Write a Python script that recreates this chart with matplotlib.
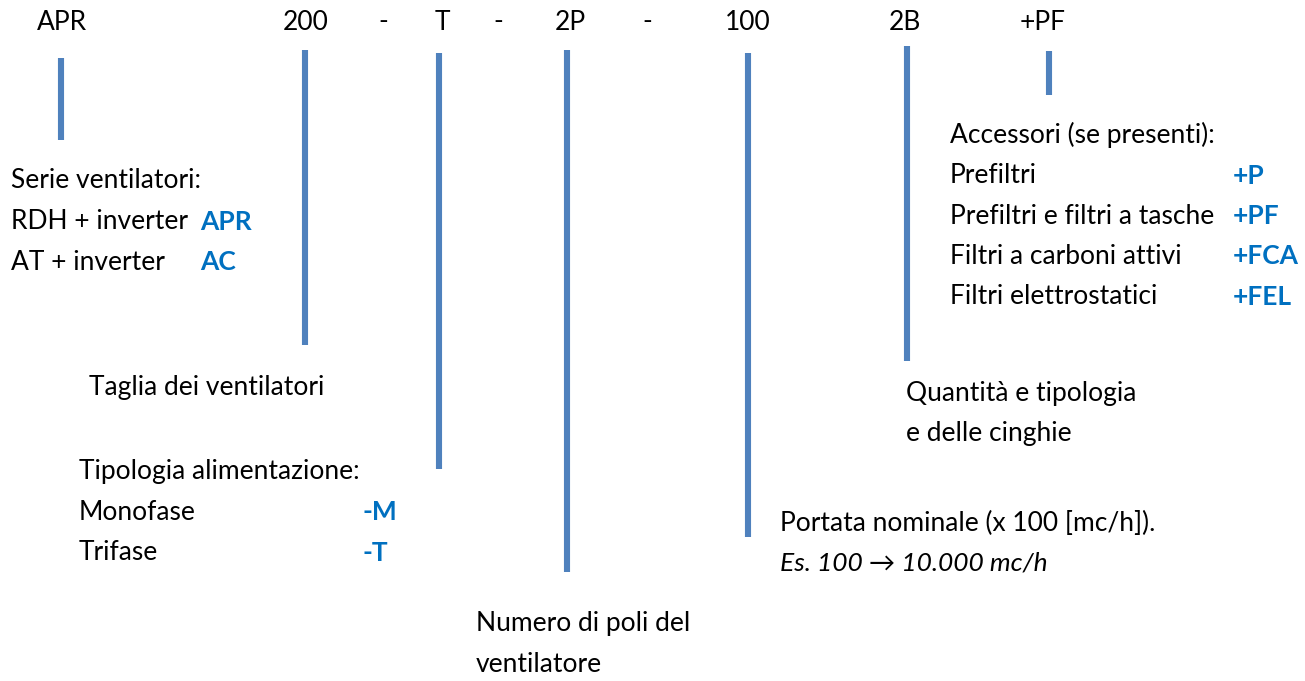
import matplotlib.pyplot as plt

plt.rcParams['font.family'] = ['Lato', 'DejaVu Sans']

# code parts along the top
codes = ['APR', '200', '-', 'T', '-', '2P', '-', '100', '2B', '+PF']
code_x = [62, 306, 383, 442, 498, 570, 647, 748, 905, 1043]

# leader lines: x, top, bottom (pixel coords)
line_x = [61, 305, 439, 567, 748, 907, 1049]
line_top = [58, 50, 53, 50, 53, 46, 51]
line_bottom = [140, 345, 469, 572, 537, 361, 95]

# description blocks: left x, first line y, lines, blue codes
blocks = [
    (11, 181, ['Serie ventilatori:', 'RDH + inverter', 'AT + inverter'], ['', 'APR', 'AC'], 200),
    (89, 388, ['Taglia dei ventilatori'], [''], None),
    (79, 472, ['Tipologia alimentazione:', 'Monofase', 'Trifase'], ['', '-M', '-T'], 362),
    (476, 624, ['Numero di poli del', 'ventilatore'], ['', ''], None),
    (906, 393, ['Quantità e tipologia', 'e delle cinghie'], ['', ''], None),
    (950, 135, ['Accessori (se presenti):', 'Prefiltri', 'Prefiltri e filtri a tasche',
                'Filtri a carboni attivi', 'Filtri elettrostatici'],
     ['', '+P', '+PF', '+FCA', '+FEL'], 1233),
]
line_gap = 40.5

fig = plt.figure(figsize=(13.05, 6.81), dpi=100)
ax = fig.add_axes([0, 0, 1, 1])
ax.set_xlim(0, 1305)
ax.set_ylim(681, 0)
ax.axis('off')

fs = 19
for c, x in zip(codes, code_x):
    ax.text(x, 22, c, ha='center', va='center', fontsize=fs, color='black')

ax.vlines(line_x, line_top, line_bottom, color='#4F81BD', linewidth=4.4)

for x0, y0, lines, tags, tag_x in blocks:
    for i, (t, tag) in enumerate(zip(lines, tags)):
        y = y0 + i * line_gap
        ax.text(x0, y, t, ha='left', va='center', fontsize=fs, color='black')
        if tag:
            ax.text(tag_x, y, tag, ha='left', va='center', fontsize=fs,
                    color='#0070C0', fontweight='bold')

# flow rate note
ax.text(780, 523, 'Portata nominale (x 100 [mc/h]).', ha='left', va='center',
        fontsize=fs, color='black')
ax.text(780, 563, 'Es. 100 \u2192 10.000 mc/h', ha='left', va='center',
        fontsize=fs, color='black', style='italic')

fig.savefig('out.png', dpi=100)
